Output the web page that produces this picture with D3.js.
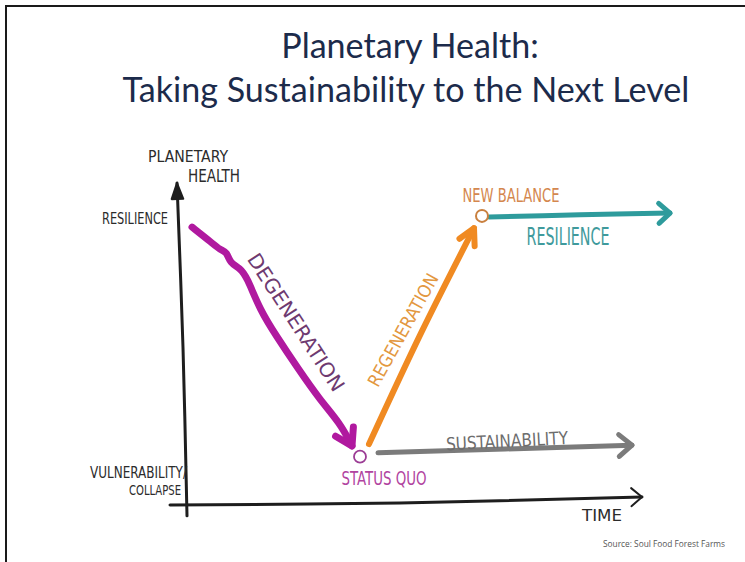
<!DOCTYPE html>
<html>
<head>
<meta charset="utf-8">
<script src="https://cdn.jsdelivr.net/npm/d3@7"></script>
<style>
  html, body { margin: 0; padding: 0; background: #fff; }
  svg { display: block; }
</style>
</head>
<body>
<svg id="chart" width="745" height="562"></svg>
<script>
// ---------- DATA (time, health) in chart units ----------
const titleLines = ["Planetary Health:", "Taking Sustainability to the Next Level"];
const sourceText = "Source: Soul Food Forest Farms";
const yAxisTitle = ["PLANETARY", "HEALTH"];
const xAxisTitle = "TIME";
const yTickValues = [8.2, 0.8];
const yTickLabels = [["RESILIENCE"], ["VULNERABILITY/", "COLLAPSE"]];

const yAxisPts = [[0.14, -0.31], [0.06, 4.5], [-0.06, 9.2]];
const xAxisPts = [[-0.2, 0.0], [4.4, 0.06], [9.24, 0.23]];

const degenerationPts = [[0.24,7.94],[0.24,7.94],[0.64,7.49],[0.80,7.29],[0.94,7.23],[1.00,6.91],[1.20,6.77],[1.34,6.51],[1.60,5.57],[1.94,4.80],[2.34,3.94],[2.80,3.00],[3.20,2.34],[3.44,1.69],[3.44,1.69]];
const regenerationPts = [[3.78,1.74],[4.82,4.91],[5.88,7.91]];
const sustainabilityPts = [[3.96,1.49],[6.5,1.60],[9.04,1.71]];
const resiliencePts = [[6.18,8.23],[8.0,8.29],[9.8,8.34]];
const statusQuo = [3.60, 1.38];
const newBalance = [6.04, 8.26];

const annotations = [
  {text: "DEGENERATION",  t: 2.32, h: 5.22, rot: 57,  len: 160, fs: 20, color: "#6e3a70"},
  {text: "REGENERATION",  t: 4.46, h: 5.00, rot: -61, len: 126, fs: 18, color: "#e3983f"},
  {text: "NEW BALANCE",   t: 6.62, h: 8.66, rot: 0,   len: 97,  fs: 19, color: "#d4874e"},
  {text: "RESILIENCE",    t: 7.76, h: 7.43, rot: 0,   len: 83,  fs: 24, color: "#3f9a9c"},
  {text: "SUSTAINABILITY",t: 6.54, h: 1.83, rot: -3,  len: 122, fs: 18, color: "#6d6d6d"},
  {text: "STATUS QUO",    t: 4.08, h: 0.57, rot: 0,   len: 85,  fs: 20, color: "#b1449f"}
];

// ---------- SETUP ----------
const svg = d3.select("#chart");
const W = 745, H = 562;
const x = d3.scaleLinear().domain([0, 10]).range([180, 680]);
const y = d3.scaleLinear().domain([0, 10]).range([505, 155]);
const hand = "'Liberation Sans Narrow', 'DejaVu Sans Condensed', 'Liberation Sans', sans-serif";

// frame
svg.append("path").attr("d", `M6,${H} V6 H${W}`).attr("fill", "none")
  .attr("stroke", "#1a1a1a").attr("stroke-width", 2);

// title
const titleG = svg.append("g");
const t1 = titleG.append("text").text(titleLines[0]);
const t2 = titleG.append("text").text(titleLines[1]);
[t1, t2].forEach(t => t.attr("font-family", "Lato, 'Open Sans', sans-serif")
  .attr("font-size", 28).attr("fill", "#1c2b4b").attr("text-anchor", "middle"));
const measured = t2.node().getComputedTextLength();
const fsTitle = 28 * 567 / measured;
t1.attr("font-size", fsTitle).attr("x", 410).attr("y", 58);
t2.attr("font-size", fsTitle).attr("x", 406).attr("y", 102);

// source
svg.append("text").text(sourceText).attr("x", 725).attr("y", 547)
  .attr("text-anchor", "end").attr("font-family", "'Liberation Sans Narrow', 'Open Sans', sans-serif")
  .attr("font-size", 9.5).attr("fill", "#555")
  .attr("textLength", 122).attr("lengthAdjust", "spacingAndGlyphs");

const line = d3.line().x(d => x(d[0])).y(d => y(d[1])).curve(d3.curveCatmullRom.alpha(0.5));
const lineBasis = d3.line().x(d => x(d[0])).y(d => y(d[1])).curve(d3.curveBasis);

function chevron(pts, L, spread, color, width, fill) {
  const p = pts[pts.length - 1], q = pts[pts.length - 3] || pts[pts.length - 2];
  const px = x(p[0]), py = y(p[1]), qx = x(q[0]), qy = y(q[1]);
  const a = Math.atan2(py - qy, px - qx);
  const s = spread * Math.PI / 180;
  const a1 = a + Math.PI - s, a2 = a + Math.PI + s;
  const d = `M${px + L * Math.cos(a1)},${py + L * Math.sin(a1)} L${px},${py} L${px + L * Math.cos(a2)},${py + L * Math.sin(a2)}` + (fill ? "Z" : "");
  svg.append("path").attr("d", d).attr("fill", fill ? color : "none")
    .attr("stroke", color).attr("stroke-width", width)
    .attr("stroke-linecap", "round").attr("stroke-linejoin", "round");
}

function stroke(pts, color, width, gen) {
  svg.append("path").datum(pts).attr("d", gen || line).attr("fill", "none")
    .attr("stroke", color).attr("stroke-width", width)
    .attr("stroke-linecap", "round").attr("stroke-linejoin", "round");
}

// axes
stroke(yAxisPts, "#1e1e1e", 3);
chevron(yAxisPts, 17, 20, "#1e1e1e", 2, true);
stroke(xAxisPts, "#1e1e1e", 3);
chevron(xAxisPts, 14, 40, "#1e1e1e", 2, false);

// axis titles
const yt = svg.append("g").attr("font-family", hand).attr("fill", "#2b2b2b");
yt.append("text").text(yAxisTitle[0]).attr("x", 148).attr("y", 162)
  .attr("font-size", 16).attr("textLength", 80).attr("lengthAdjust", "spacingAndGlyphs");
yt.append("text").text(yAxisTitle[1]).attr("x", 188).attr("y", 182)
  .attr("font-size", 18).attr("textLength", 52).attr("lengthAdjust", "spacingAndGlyphs");
svg.append("text").text(xAxisTitle).attr("x", x(8.44)).attr("y", y(-0.46))
  .attr("text-anchor", "middle").attr("font-family", hand).attr("fill", "#2b2b2b")
  .attr("font-size", 15).attr("textLength", 40).attr("lengthAdjust", "spacingAndGlyphs");

// y tick labels
const tickG = svg.append("g").attr("font-family", hand).attr("fill", "#2b2b2b");
yTickValues.forEach((v, i) => {
  const lines = yTickLabels[i];
  if (lines.length === 1) {
    tickG.append("text").text(lines[0]).attr("x", 168).attr("y", y(v) + 6)
      .attr("text-anchor", "end").attr("font-size", 15)
      .attr("textLength", 66).attr("lengthAdjust", "spacingAndGlyphs");
  } else {
    tickG.append("text").text(lines[0]).attr("x", 187).attr("y", y(v) + 1)
      .attr("text-anchor", "end").attr("font-size", 15)
      .attr("textLength", 97).attr("lengthAdjust", "spacingAndGlyphs");
    tickG.append("text").text(lines[1]).attr("x", 181).attr("y", y(v) + 18)
      .attr("text-anchor", "end").attr("font-size", 14)
      .attr("textLength", 52).attr("lengthAdjust", "spacingAndGlyphs");
  }
});

// series
stroke(sustainabilityPts, "#7b7b7b", 5);
chevron(sustainabilityPts, 17, 40, "#7b7b7b", 5, false);

stroke(resiliencePts, "#2e9b9c", 5);
chevron(resiliencePts, 15, 42, "#2e9b9c", 5, false);

stroke(regenerationPts, "#f08a22", 6);
chevron(regenerationPts, 18, 28, "#f08a22", 6, false);

stroke(degenerationPts, "#b0199f", 7, lineBasis);
chevron(degenerationPts, 19, 32, "#b0199f", 7, false);

// circles
svg.append("circle").attr("cx", x(statusQuo[0])).attr("cy", y(statusQuo[1])).attr("r", 6)
  .attr("fill", "#fff").attr("stroke", "#9c3d95").attr("stroke-width", 1.8);
svg.append("circle").attr("cx", x(newBalance[0])).attr("cy", y(newBalance[1])).attr("r", 6)
  .attr("fill", "#fff").attr("stroke", "#c9803f").attr("stroke-width", 2);

// annotations
annotations.forEach(a => {
  const cx = x(a.t), cy = y(a.h);
  svg.append("text").text(a.text)
    .attr("transform", `translate(${cx},${cy}) rotate(${a.rot})`)
    .attr("text-anchor", "middle").attr("dy", a.rot !== 0 ? "0.35em" : 0)
    .attr("font-family", hand).attr("font-size", a.fs).attr("fill", a.color)
    .attr("textLength", a.len).attr("lengthAdjust", "spacingAndGlyphs");
});
</script>
</body>
</html>
